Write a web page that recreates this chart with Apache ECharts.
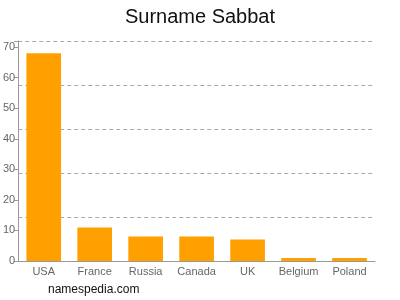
<!DOCTYPE html>
<html><head><meta charset="utf-8">
<script src="https://cdn.jsdelivr.net/npm/echarts@6/dist/echarts.min.js"></script>
<style>html,body{margin:0;padding:0;background:#fff}#c{width:400px;height:300px}</style>
</head><body><div id="c"></div>
<script>
var categories = ['USA','France','Russia','Canada','UK','Belgium','Poland'];
var values = [68, 11, 8, 8, 7, 1, 1];
var yTicks = [0,10,20,30,40,50,60,70];
var chart = echarts.init(document.getElementById('c'), null, {renderer:'canvas'});
var font = 'Liberation Sans, Arial, sans-serif';
chart.setOption({
  animation:false,
  title:{text:'Surname Sabbat', left:'center', top:2, textStyle:{fontFamily:font, fontSize:20, fontWeight:'normal', color:'#111'}},
  graphic:[{type:'text', left:48, top:284, style:{text:'namespedia.com', font:'12px '+font, fill:'#111'}}],
  grid:{left:17, right:25, top:41, bottom:39},
  xAxis:{type:'category', data:categories,
    axisLine:{lineStyle:{color:'#999'}},
    axisTick:{alignWithLabel:true, length:4, lineStyle:{color:'#999'}},
    axisLabel:{color:'#666', fontFamily:font, fontSize:11, margin:5, interval:0}},
  yAxis:[{type:'value', min:0, max:72, interval:10,
    axisLine:{show:true, lineStyle:{color:'#999'}},
    axisTick:{show:true, length:4, lineStyle:{color:'#999'}},
    axisLabel:{color:'#666', fontFamily:font, fontSize:11, margin:3,
      formatter:function(v){return yTicks.indexOf(v)>=0?String(v):'';}},
    splitLine:{show:false}},
   {type:'value', min:0, max:72, interval:14.4, position:'left',
    axisLine:{show:false}, axisTick:{show:false}, axisLabel:{show:false},
    splitLine:{show:true, lineStyle:{color:'#aaa', type:[4,3]}}}],
  series:[{type:'bar', data:values, barWidth:'68%', yAxisIndex:0,
    itemStyle:{color:'#ffa000'}}]
});
</script></body></html>
